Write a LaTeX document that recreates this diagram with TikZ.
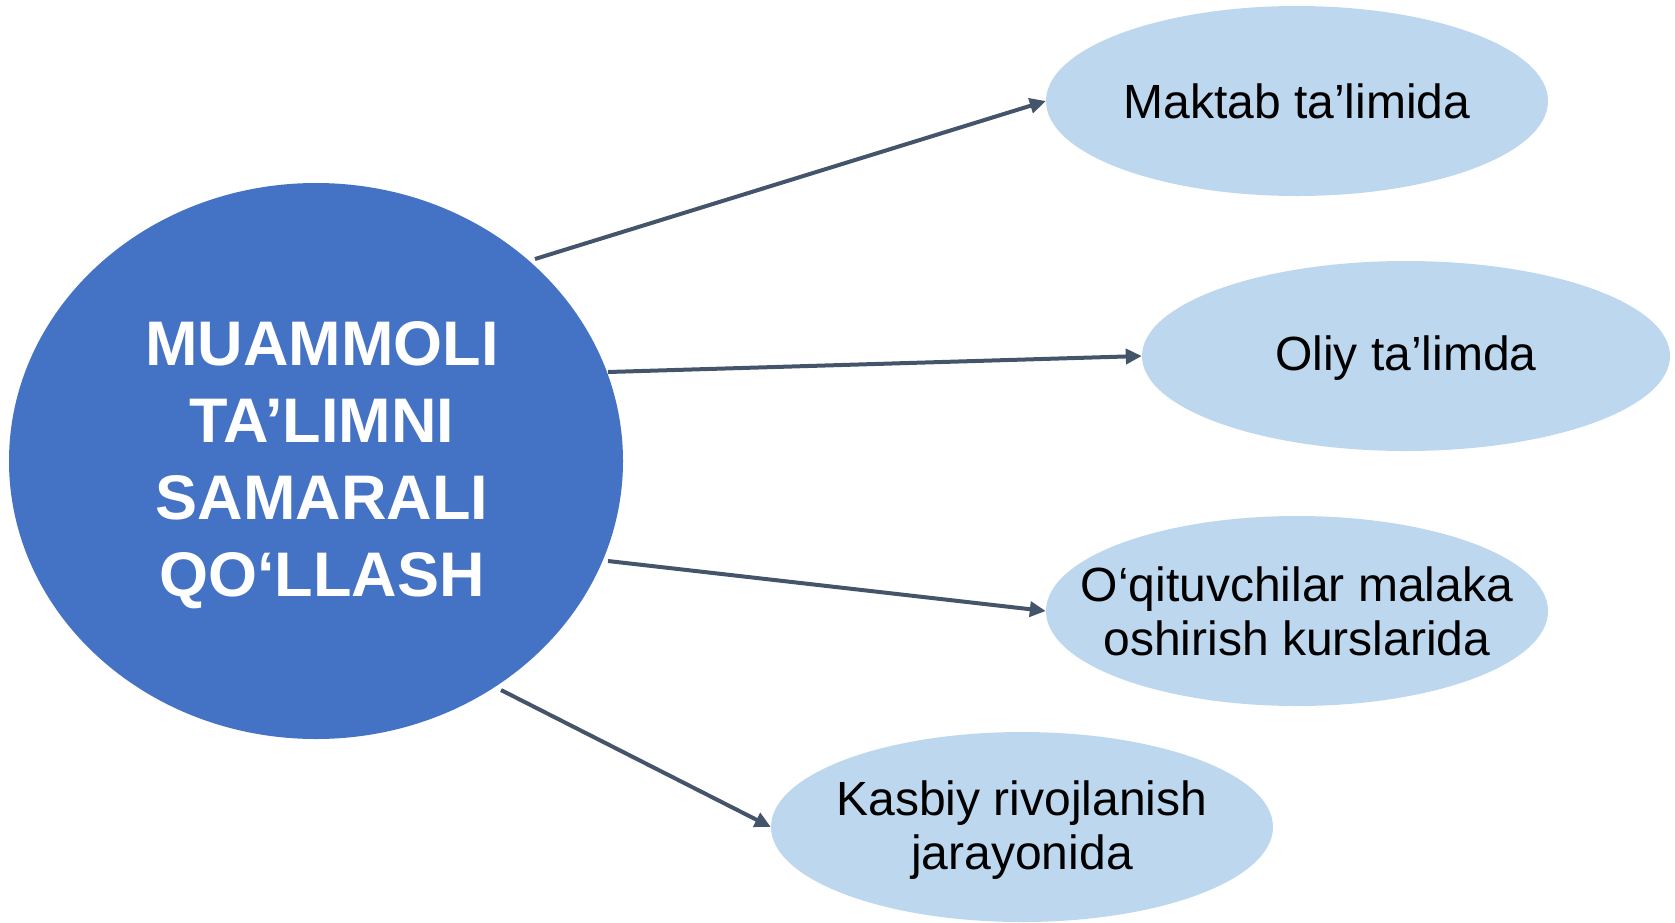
\documentclass[tikz,border=0pt]{standalone}
\usepackage{fontspec}
\setmainfont{Liberation Sans}
\usetikzlibrary{shapes.geometric,arrows.meta}
\definecolor{bigblue}{HTML}{4472C4}
\definecolor{lightblue}{HTML}{BDD7EE}
\definecolor{arrowc}{HTML}{44546A}
\tikzset{
  bignode/.style={ellipse,fill=bigblue,inner sep=0pt,minimum width=614pt,minimum height=556pt},
  bigtext/.style={text=white,font=\fontsize{63}{77}\selectfont\bfseries,align=center,inner sep=0pt},
  smallnode/.style={ellipse,fill=lightblue,inner sep=0pt,minimum width=502pt,minimum height=190pt},
  smalltext/.style={text=black,font=\fontsize{48}{54}\selectfont,align=center,inner sep=0pt},
  conn/.style={draw=arrowc,line width=4pt,-{Triangle[length=16pt,width=15pt]}}
}
\begin{document}
\begin{tikzpicture}[x=1pt,y=-1pt]
\useasboundingbox (0,0) rectangle (1675,922);
\node[bignode] (c) at (316,461) {};
\node[bigtext] (ct) at (322,465) {MUAMMOLI\\TA’LIMNI\\SAMARALI\\QO‘LLASH};
\node[smallnode] (m) at (1297,101) {};
\node[smalltext] (mt) at (1297,101) {Maktab ta’limida};
\node[smallnode,minimum width=528pt] (o) at (1406,356) {};
\node[smalltext] (ot) at (1406,358) {Oliy ta’limda};
\node[smallnode] (q) at (1297,611) {};
\node[smalltext] (qt) at (1297,611) {O‘qituvchilar malaka\\oshirish kurslarida};
\node[smallnode] (k) at (1022,827) {};
\node[smalltext] (kt) at (1022,830) {Kasbiy rivojlanish\\jarayonida};
\coordinate (s1) at (535,259);
\coordinate (s2) at (608,372);
\coordinate (s3) at (608,561);
\coordinate (s4) at (501,690);
\draw[conn] (s1) -- (m.west);
\draw[conn] (s2) -- (o.west);
\draw[conn] (s3) -- (q.west);
\draw[conn] (s4) -- (k.west);
\end{tikzpicture}
\end{document}
